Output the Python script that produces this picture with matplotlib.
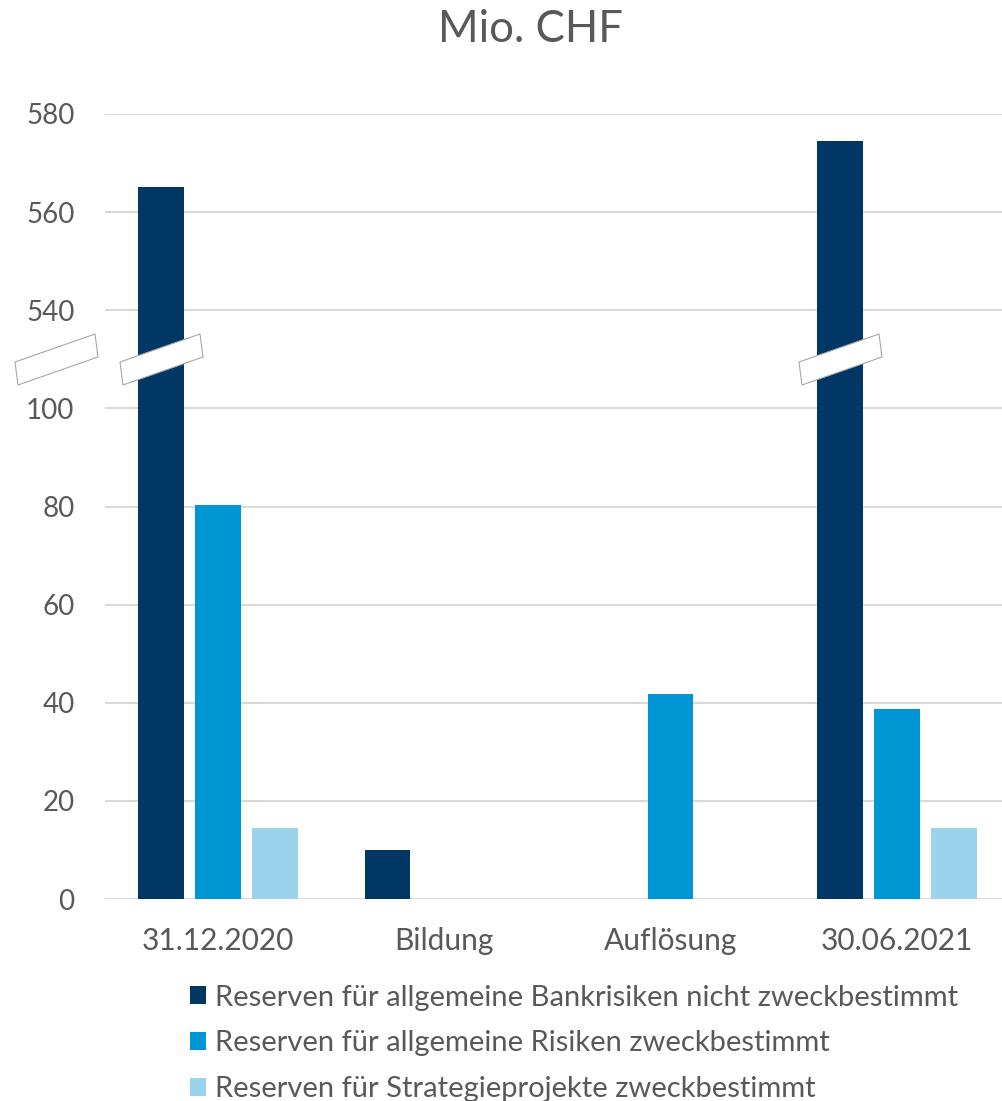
import numpy as np
import matplotlib
matplotlib.use("Agg")
import matplotlib.pyplot as plt
from matplotlib.path import Path

# Data ------------------------------------------------------------
categories = ["31.12.2020", "Bildung", "Auflösung", "30.06.2021"]
bank_nicht_zweck = [565.2, 10.0, 0.0, 574.4]
risiken_zweck = [80.4, 0.0, 41.7, 38.7]
strategie_zweck = [14.5, 0.0, 0.0, 14.5]
series_labels = [
    "Reserven für allgemeine Bankrisiken nicht zweckbestimmt",
    "Reserven für allgemeine Risiken zweckbestimmt",
    "Reserven für Strategieprojekte zweckbestimmt",
]
yticks_real = [0, 20, 40, 60, 80, 100, 540, 560, 580]

# broken axis: everything above 100 is shifted down so 540 sits at 120
BREAK_LOW = 100
BREAK_HIGH = 540
SHIFT = BREAK_HIGH - (BREAK_LOW + 20)

def to_axis(v):
    v = np.asarray(v, dtype=float)
    return np.where(v > BREAK_LOW, v - SHIFT, v)

colors = ["#003764", "#0095d4", "#9bd3ec"]
text_gray = "#595959"
grid_gray = "#d9d9d9"

plt.rcParams['font.family'] = ['Lato', 'DejaVu Sans']

fig = plt.figure(figsize=(10.02, 11.01), dpi=100)
ax = fig.add_axes([105/1002, 202/1101, 897/1002, 785/1101])

x = np.arange(len(categories))
step = 0.252
width = 0.2
all_series = [bank_nicht_zweck, risiken_zweck, strategie_zweck]
for i, (vals, col, lab) in enumerate(zip(all_series, colors, series_labels)):
    ax.bar(x + (i - 1) * step, to_axis(vals), width=width, color=col, label=lab, zorder=3)

ax.set_xlim(-0.499, 3.464)
ax.set_ylim(0, 160)
ax.set_yticks(to_axis(yticks_real))
ax.set_yticklabels([str(t) for t in yticks_real])
ax.set_xticks(x)
ax.set_xticklabels(categories)
ax.tick_params(axis='y', length=0, pad=22, labelsize=20, labelcolor=text_gray)
ax.tick_params(axis='x', length=0, pad=20, labelsize=21.5, labelcolor=text_gray)
ax.grid(axis='y', color=grid_gray, linewidth=1.5, zorder=0)
for s in ax.spines.values():
    s.set_visible(False)

# break markers (slanted white boxes)
verts = [(-41.5, -2.5), (-38.5, -25.5), (41.5, 2.5), (38.5, 25.5), (-41.5, -2.5)]
brk = Path(verts, [Path.MOVETO, Path.LINETO, Path.LINETO, Path.LINETO, Path.CLOSEPOLY])
brk_y = 110
mk = dict(marker=brk, markersize=83 * 0.72, markerfacecolor="white",
          markeredgecolor="#a6a6a6", markeredgewidth=0.8, linestyle="none",
          clip_on=False, zorder=6)
ax.plot([-0.055], [brk_y], transform=ax.get_yaxis_transform(), **mk)
ax.plot([x[0] - step, x[3] - step], [brk_y, brk_y], **mk)

fig.text(530/1002, 1 - 30/1101, "Mio. CHF", ha="center", va="center",
         fontsize=31.5, color=text_gray)

leg = fig.legend(loc="upper left", bbox_to_anchor=(178/1002, 1 - 973/1101),
                 frameon=False, fontsize=21, handlelength=0.57, handleheight=0.57,
                 handletextpad=0.3, labelspacing=0.68, borderaxespad=0)
for t in leg.get_texts():
    t.set_color(text_gray)

fig.savefig("out.png", dpi=100)
